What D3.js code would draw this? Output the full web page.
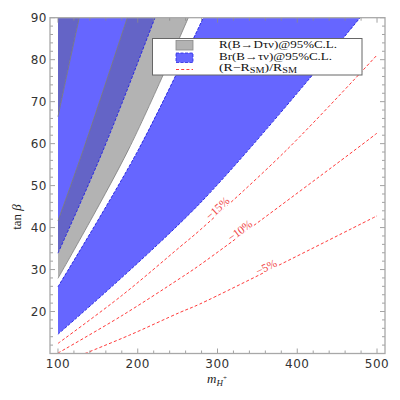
<!DOCTYPE html>
<html><head><meta charset="utf-8">
<script src="https://cdn.jsdelivr.net/npm/d3@7"></script>
<style>body{margin:0;background:#fff}</style>
</head><body><svg id="c" width="400" height="400"></svg>
<script>
// ---- data (mH+, tanβ) ----
const xTicks = [100, 200, 300, 400, 500];
const yTicks = [20, 30, 40, 50, 60, 70, 80, 90];
// R(B→Dτν) allowed bands (grey)
const grey1Edge  = [[100, 66.4], [113, 78], [126.7, 90]];
const grey2Left  = [[100, 41.6], [131.7, 58.5], [186.9, 90]];
const grey2Right = [[100, 27.9], [188.2, 58.5], [263.4, 90]];
// Br(B→τν) allowed bands (blue)
const blue1Edge  = [[100, 33.9], [156.8, 58.5], [221.6, 90]];
const blue2Left  = [[100, 25.9], [200.7, 58.5], [282.2, 90]];
const blue2Right = [[100, 14.6], [278.1, 45.8], [478.7, 90]];
// (R-R_SM)/R_SM contours
const dev15 = [[100, 12.4], [180, 23.8], [253, 35.4], [278, 39.4], [386.7, 58.5], [500, 81.1]];
const dev10 = [[100, 10.1], [180, 19.0], [253, 27.9], [278, 31.1], [472.4, 58.5], [500, 62.5]];
const dev5  = [[133.9, 10], [190, 14.4], [253, 19.8], [278, 21.8], [500, 42.8]];
const contourNames = ["\u221215%", "\u221210%", "\u22125%"];
const contourLabelAt = [[300, 44.6], [328, 39.3], [361, 30.6]];
const legendLabels = ["R(B\u2192D\u03c4\u03bd)@95%C.L.", "Br(B\u2192\u03c4\u03bd)@95%C.L."];

const svg = d3.select("#c");
const L = 50, R = 385, T = 17.7, B = 353.5;
const x = d3.scaleLinear().domain([90, 510]).range([L, R]);
const y = d3.scaleLinear().domain([10, 90]).range([B, T]);
const line = d3.line().x(d => x(d[0])).y(d => y(d[1])).curve(d3.curveCatmullRom);

const BLUE = "#6666ff", GREY = "#b3b3b3", DARK = "#6464c6";
const blue1Path = line(blue1Edge) + `L${x(100)},${y(90)}Z`;
const blue2Path = line(blue2Left) + "L" + line(blue2Right.slice().reverse()).slice(1) + "Z";
const grey1Path = line(grey1Edge) + `L${x(100)},${y(90)}Z`;
const grey2Path = line(grey2Left) + "L" + line(grey2Right.slice().reverse()).slice(1) + "Z";

const defs = svg.append("defs");
defs.append("clipPath").attr("id", "plot").append("rect")
  .attr("x", L).attr("y", T).attr("width", R - L).attr("height", B - T);
const cb = defs.append("clipPath").attr("id", "blueclip");
cb.append("path").attr("d", blue1Path);
cb.append("path").attr("d", blue2Path);

const g = svg.append("g").attr("clip-path", "url(#plot)");
g.append("path").attr("d", blue1Path).attr("fill", BLUE);
g.append("path").attr("d", blue2Path).attr("fill", BLUE);
g.append("path").attr("d", grey1Path).attr("fill", GREY);
g.append("path").attr("d", grey2Path).attr("fill", GREY);
const go = g.append("g").attr("clip-path", "url(#blueclip)");
go.append("path").attr("d", grey1Path).attr("fill", DARK);
go.append("path").attr("d", grey2Path).attr("fill", DARK);

[grey1Edge, grey2Left, grey2Right].forEach(e =>
  g.append("path").attr("d", line(e)).attr("fill", "none").attr("stroke", "#7a7a7a").attr("stroke-width", 0.8));
[blue1Edge, blue2Left, blue2Right].forEach(e =>
  g.append("path").attr("d", line(e)).attr("fill", "none").attr("stroke", "#2a2ae0")
    .attr("stroke-width", 1).attr("stroke-dasharray", "3,1.5"));

const RED = "#ff3a3a";
[dev15, dev10, dev5].forEach(e => {
  g.append("path").attr("d", line(e)).attr("fill", "none").attr("stroke", RED)
    .attr("stroke-width", 1).attr("stroke-dasharray", "3,2.2");
});
[dev15, dev10, dev5].forEach((e, i) => {
  const [m, t] = contourLabelAt[i];
  let k = 1; while (k < e.length - 1 && e[k][0] < m) k++;
  const a = e[k - 1], b = e[k];
  const ang = Math.atan2(y(b[1]) - y(a[1]), x(b[0]) - x(a[0])) * 180 / Math.PI;
  g.append("text").attr("transform", `translate(${x(m)},${y(t)}) rotate(${ang})`)
    .attr("text-anchor", "middle").attr("dy", "0.35em")
    .attr("font-family", "Liberation Serif, serif").attr("font-size", 11.5)
    .attr("fill", "#f04848").attr("stroke", "#fff").attr("stroke-width", 3)
    .attr("paint-order", "stroke").text(contourNames[i]);
});

// frame + ticks
const TC = "#8a8a8a";
const xMinor = d3.range(100, 501, 20), yMinor = d3.range(10, 91, 2);
const fr = svg.append("g");
xMinor.forEach(v => {
  const len = v % 100 === 0 ? 5 : 3;
  fr.append("line").attr("x1", x(v)).attr("x2", x(v)).attr("y1", B).attr("y2", B - len).attr("stroke", TC).attr("stroke-width", 0.8);
  fr.append("line").attr("x1", x(v)).attr("x2", x(v)).attr("y1", T).attr("y2", T + len).attr("stroke", TC).attr("stroke-width", 0.8);
});
yMinor.forEach(v => {
  const len = v % 10 === 0 ? 5 : 3;
  fr.append("line").attr("y1", y(v)).attr("y2", y(v)).attr("x1", L).attr("x2", L + len).attr("stroke", TC).attr("stroke-width", 0.8);
  fr.append("line").attr("y1", y(v)).attr("y2", y(v)).attr("x1", R).attr("x2", R - len).attr("stroke", TC).attr("stroke-width", 0.8);
});
fr.append("rect").attr("x", L).attr("y", T).attr("width", R - L).attr("height", B - T)
  .attr("fill", "none").attr("stroke", "#a8a8a8").attr("stroke-width", 1.3);

const tf = "DejaVu Sans, sans-serif";
xTicks.forEach(v => svg.append("text").attr("x", x(v)).attr("y", 368).attr("text-anchor", "middle")
  .attr("font-family", tf).attr("font-size", 12).attr("fill", "#333").attr("letter-spacing", 0.5).text(v));
yTicks.forEach(v => svg.append("text").attr("x", 47).attr("y", y(v)).attr("dy", "0.36em").attr("text-anchor", "end")
  .attr("font-family", tf).attr("font-size", 12).attr("fill", "#333").attr("letter-spacing", 0.5).text(v));

// axis titles
const xt = svg.append("text").attr("x", 207).attr("y", 383).attr("font-family", "Liberation Serif, serif")
  .attr("font-size", 13).attr("font-style", "italic").attr("fill", "#222");
xt.append("tspan").text("m");
xt.append("tspan").attr("dy", 3).attr("font-size", 9).text("H");
xt.append("tspan").attr("dy", -6).attr("font-size", 7).attr("font-style", "normal").text("+");
svg.append("text").attr("transform", "translate(21,217) rotate(-90)").attr("text-anchor", "middle")
  .attr("font-family", "Liberation Serif, serif").attr("font-size", 13).attr("fill", "#222")
  .html('tan <tspan font-style="italic">\u03b2</tspan>');

// legend
const lg = svg.append("g");
lg.append("rect").attr("x", 152.5).attr("y", 38.5).attr("width", 209.5).attr("height", 36.5)
  .attr("fill", "#fff").attr("stroke", "#666").attr("stroke-width", 1);
lg.append("rect").attr("x", 176).attr("y", 40.5).attr("width", 17).attr("height", 9.5)
  .attr("fill", GREY).attr("stroke", "#888").attr("stroke-width", 0.8);
lg.append("rect").attr("x", 176).attr("y", 53).attr("width", 17).attr("height", 9.5)
  .attr("fill", BLUE).attr("stroke", "#2a2ae0").attr("stroke-width", 0.8).attr("stroke-dasharray", "3,1.5");
lg.append("line").attr("x1", 176).attr("x2", 193).attr("y1", 69.5).attr("y2", 69.5)
  .attr("stroke", RED).attr("stroke-width", 1).attr("stroke-dasharray", "3,2.2");
const lf = "Liberation Serif, serif";
const legendWidths = [118, 113];
[47.6, 59.8].forEach((by, i) => lg.append("text").attr("x", 219).attr("y", by)
  .attr("font-family", lf).attr("font-size", 10.8).attr("fill", "#111")
  .attr("textLength", legendWidths[i]).attr("lengthAdjust", "spacingAndGlyphs").text(legendLabels[i]));
const t3 = lg.append("text").attr("x", 219).attr("y", 71.4).attr("font-family", lf).attr("font-size", 10.8)
  .attr("fill", "#111").attr("textLength", 78).attr("lengthAdjust", "spacingAndGlyphs");
t3.append("tspan").text("(R\u2212R");
t3.append("tspan").attr("dy", 2).attr("font-size", 8).text("SM");
t3.append("tspan").attr("dy", -2).text(")/R");
t3.append("tspan").attr("dy", 2).attr("font-size", 8).text("SM");
</script></body></html>
